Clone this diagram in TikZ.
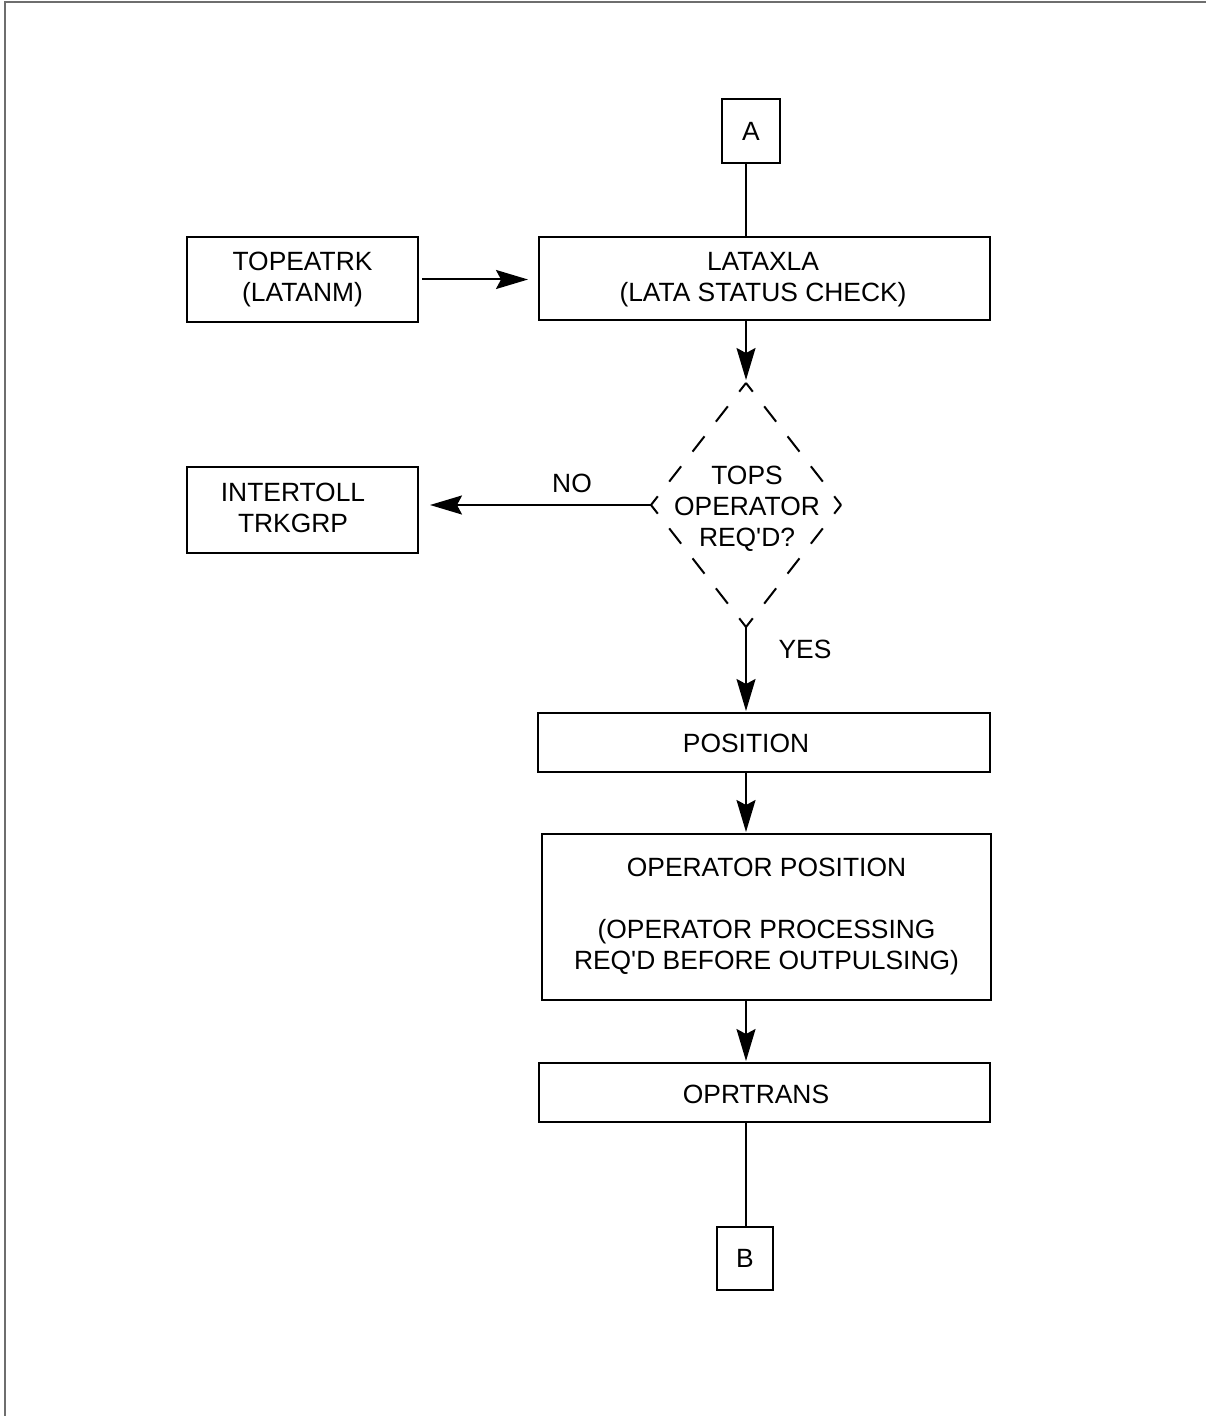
\documentclass[tikz,border=0pt]{standalone}
\usepackage{fontspec}
\setmainfont{Liberation Sans}
\usetikzlibrary{arrows.meta,shapes.geometric}
\definecolor{framegray}{RGB}{110,110,110}
\begin{document}
\begin{tikzpicture}[x=0.5pt,y=-0.5pt,
  box/.style={draw, line width=1pt, rectangle, inner sep=0pt, outer sep=0pt},
  txt/.style={align=center, inner sep=0pt, outer sep=0pt, font=\fontsize{13.2pt}{15.5pt}\selectfont},
  arr/.style={line width=1pt, -{Stealth[length=16pt,width=9.5pt,inset=2.5pt]}},
  ln/.style={line width=1pt},
  ddash/.style={line width=1pt, dash pattern=on 5.5pt off 9.3pt on 9.7pt off 9.3pt on 9.7pt off 9.3pt on 9.7pt off 9.3pt on 5.5pt off 30pt},
  frame/.style={line width=1pt, draw=framegray}]
\useasboundingbox (0,0) rectangle (1206,1416);
\draw[frame] (5,1416) -- (5,2) -- (1206,2);

\coordinate (ax) at (746,0);

% boxes
\node[box, txt, minimum width=29pt, minimum height=32pt] (A) at (751,131) {A};
\node[box, minimum width=225.5pt, minimum height=41.5pt] (lat) at (764.5,278.5) {};
\node[txt] (lattext) at (763,280) {LATAXLA\\(LATA STATUS CHECK)};
\node[box, txt, minimum width=115.5pt, minimum height=42.5pt] (top) at (302.5,279.5) {TOPEATRK\\(LATANM)};
\node[box, minimum width=115.5pt, minimum height=43pt] (inter) at (302.5,510) {};
\node[txt] (intertext) at (293,508) {INTERTOLL\\TRKGRP};
\node[diamond, minimum width=95pt, minimum height=122pt, inner sep=0pt, outer sep=0pt] (dec) at (746,505) {};
\node[txt] (dectext) at (747,509) {TOPS\\OPERATOR\\REQ\textquotesingle D?};
\node[box, minimum width=226pt, minimum height=29.5pt] (pos) at (764,742.5) {};
\node[txt] (postext) at (746,743) {POSITION};
\node[box, txt, minimum width=224.5pt, minimum height=83pt] (op) at (766.5,917) {OPERATOR POSITION\\[15.5pt](OPERATOR PROCESSING\\REQ\textquotesingle D BEFORE OUTPULSING)};
\node[box, minimum width=225.5pt, minimum height=29.5pt] (opr) at (764.5,1092.5) {};
\node[txt] (oprtext) at (756,1094) {OPRTRANS};
\node[box, txt, minimum width=28pt, minimum height=31.5pt] (B) at (745,1258.5) {B};

% diamond outline
\draw[ddash] (dec.north) -- (dec.west);
\draw[ddash] (dec.north) -- (dec.east);
\draw[ddash] (dec.south) -- (dec.west);
\draw[ddash] (dec.south) -- (dec.east);

% labels
\node[txt] (no) at (572,483) {NO};
\node[txt] (yes) at (805,649) {YES};

% connectors
\draw[ln] (A.south -| ax) -- (lat.north -| ax);
\draw[arr, shorten <=2pt, shorten >=5.5pt] (top.east) -- (top.east -| lat.west);
\draw[arr, shorten >=1.5pt] (lat.south -| ax) -- (dec.north);
\draw[arr, shorten >=6pt] (dec.west) -- (dec.west -| inter.east);
\draw[arr, shorten >=1pt] (dec.south) -- (pos.north -| ax);
\draw[arr, shorten >=1pt] (pos.south -| ax) -- (op.north -| ax);
\draw[arr, shorten >=1pt] (op.south -| ax) -- (opr.north -| ax);
\draw[ln] (opr.south -| ax) -- (B.north -| ax);
\end{tikzpicture}
\end{document}
